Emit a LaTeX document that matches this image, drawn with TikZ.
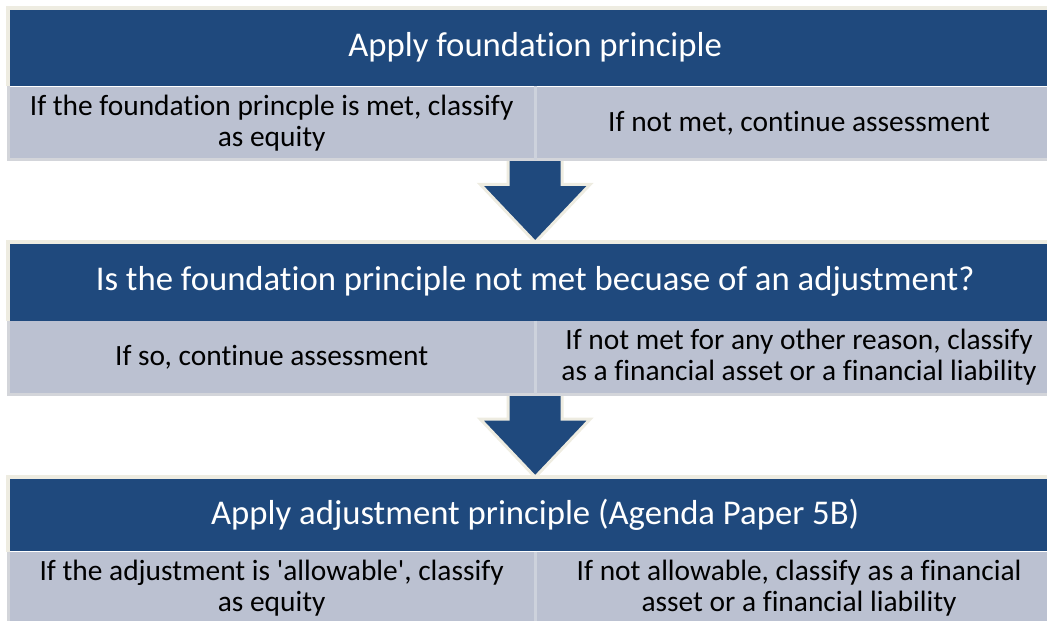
\documentclass[tikz,border=0pt]{standalone}
\usepackage{fontspec}
\setmainfont{Carlito}[Ligatures={NoCommon}]
\usetikzlibrary{positioning,backgrounds}

\definecolor{hdrblue}{HTML}{1F497D}
\definecolor{cellgrey}{HTML}{BBC1D1}
\definecolor{rimbeige}{HTML}{EEECE1}
\definecolor{edgegrey}{HTML}{D3D5DA}
\definecolor{seamgrey}{HTML}{CDD2DC}

\begin{document}
\begin{tikzpicture}[
    x=1pt, y=1pt,
    hdr/.style={rectangle, fill=hdrblue, text=white, inner sep=0pt, minimum width=1054pt,
        anchor=north west, font=\fontsize{34.7}{40}\selectfont},
    cell/.style={rectangle, fill=cellgrey, text=black, inner sep=0pt, minimum width=527pt,
        minimum height=73pt, align=center, font=\fontsize{29.4}{31}\selectfont},
    rim/.style={draw=rimbeige, line width=4pt},
    gutter/.style={draw=edgegrey, line width=3pt},
    seam/.style={draw=seamgrey, line width=2.5pt},
    flow/.pic={
        \draw[fill=hdrblue, draw=rimbeige, line width=3pt, line join=miter]
            (0,0) -- (-55,58) -- (-27,58) -- (-27,86) -- (27,86) -- (27,58) -- (55,58) -- cycle;
    }
]
\useasboundingbox (0,0) rectangle (1047,-621);

% step 1
\node[hdr, minimum height=78pt] (h1) at (8,-8) {Apply foundation principle};
\node[cell, anchor=north west] (s1l) at (h1.south west)
    {If the foundation princple is met, classify\\as equity};
\node[cell, anchor=north west] (s1r) at (s1l.north east) {If not met, continue assessment};

% step 2
\node[hdr, minimum height=78pt, below=82.5pt of s1l.south west, anchor=north west] (h2)
    {Is the foundation principle not met becuase of an adjustment?};
\node[cell, anchor=north west] (s2l) at (h2.south west) {If so, continue assessment};
\node[cell, anchor=north west] (s2r) at (s2l.north east)
    {If not met for any other reason, classify\\as a financial asset or a financial liability};

% step 3
\node[hdr, minimum height=74pt, below=83pt of s2l.south west, anchor=north west] (h3)
    {Apply adjustment principle (Agenda Paper 5B)};
\node[cell, anchor=north west] (s3l) at (h3.south west)
    {If the adjustment is \textquotesingle allowable\textquotesingle, classify\\as equity};
\node[cell, anchor=north west] (s3r) at (s3l.north east)
    {If not allowable, classify as a financial\\asset or a financial liability};

% rims and edges
\foreach \h in {h1,h2,h3}
    \draw[rim] (\h.south west) |- (\h.north east);
\foreach \s in {s1,s2,s3} {
    \draw[gutter] (\s l.north west) |- (\s r.south east);
    \draw[seam] (\s l.north east) -- (\s l.south east);
}

% arrows
\begin{scope}[on background layer]
    \pic at (h2.north) {flow};
    \pic at (h3.north) {flow};
\end{scope}
\end{tikzpicture}
\end{document}
